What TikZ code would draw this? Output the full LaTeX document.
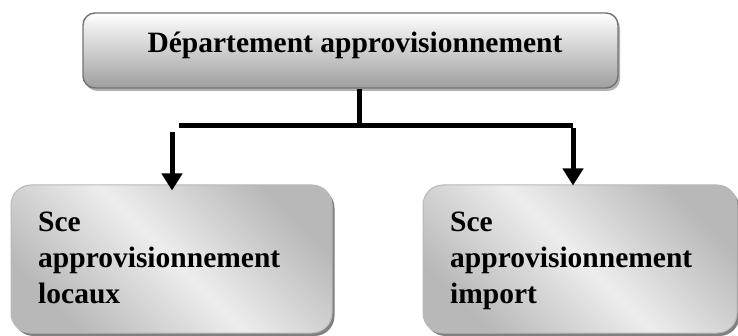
\documentclass[tikz,border=0pt]{standalone}
\usepackage{fontspec}
\setmainfont{Liberation Serif}
\usetikzlibrary{arrows.meta,shadows}
\begin{document}
\begin{tikzpicture}[x=1pt,y=-1pt,
  topbox/.style={draw=black!55, line width=1.4pt, rounded corners=12pt,
    top color=white, bottom color=black!38,
    drop shadow={shadow xshift=2pt, shadow yshift=-3pt, fill=black!30, opacity=1},
    minimum width=535pt, minimum height=75pt, inner sep=0pt},
  subbox/.style={draw=black!28, line width=1pt, rounded corners=20pt,
    left color=black!28, right color=black!28, middle color=black!7, shading angle=135,
    drop shadow={shadow xshift=2.5pt, shadow yshift=-3pt, fill=black!50, opacity=1},
    minimum width=321pt, minimum height=148pt, inner sep=0pt},
  lbl/.style={font=\bfseries\fontsize{29.5}{35.5}\selectfont, inner sep=0pt},
  conn/.style={line width=5pt},
  arr/.style={line width=5pt, -{Triangle[width=20pt,length=17pt]}}
]
\useasboundingbox (0,0) rectangle (738,336);
% boxes
\node[topbox] (top) at (350.5,50.5) {};
\node[subbox] (lbox) at (171.5,259) {};
\node[subbox, minimum width=314pt] (rbox) at (580,259) {};
% texts
\node[lbl, anchor=base] (tt) at (355,53) {Département approvisionnement};
\node[lbl, anchor=base west] (l1) at (38,232) {Sce};
\node[lbl, anchor=base west] (l2) at (38,268) {approvisionnement};
\node[lbl, anchor=base west] (l3) at (38,303) {locaux};
\node[lbl, anchor=base west] (r1) at (450,232) {Sce};
\node[lbl, anchor=base west] (r2) at (450,268) {approvisionnement};
\node[lbl, anchor=base west] (r3) at (450,303) {import};
% connectors
\coordinate (j) at (359,126);
\coordinate (hl) at (179,126);
\coordinate (hr) at (573,126);
\coordinate (la) at (172,132);
\draw[conn] (top.south -| j) -- (j);
\draw[line width=5pt] (hl) -- (hr);
\draw[arr] ([yshift=-2.5pt]hr) -- ([yshift=-1pt]rbox.north -| hr);
\draw[arr] (la) -- ([yshift=-6pt]lbox.north -| la);
\end{tikzpicture}
\end{document}
